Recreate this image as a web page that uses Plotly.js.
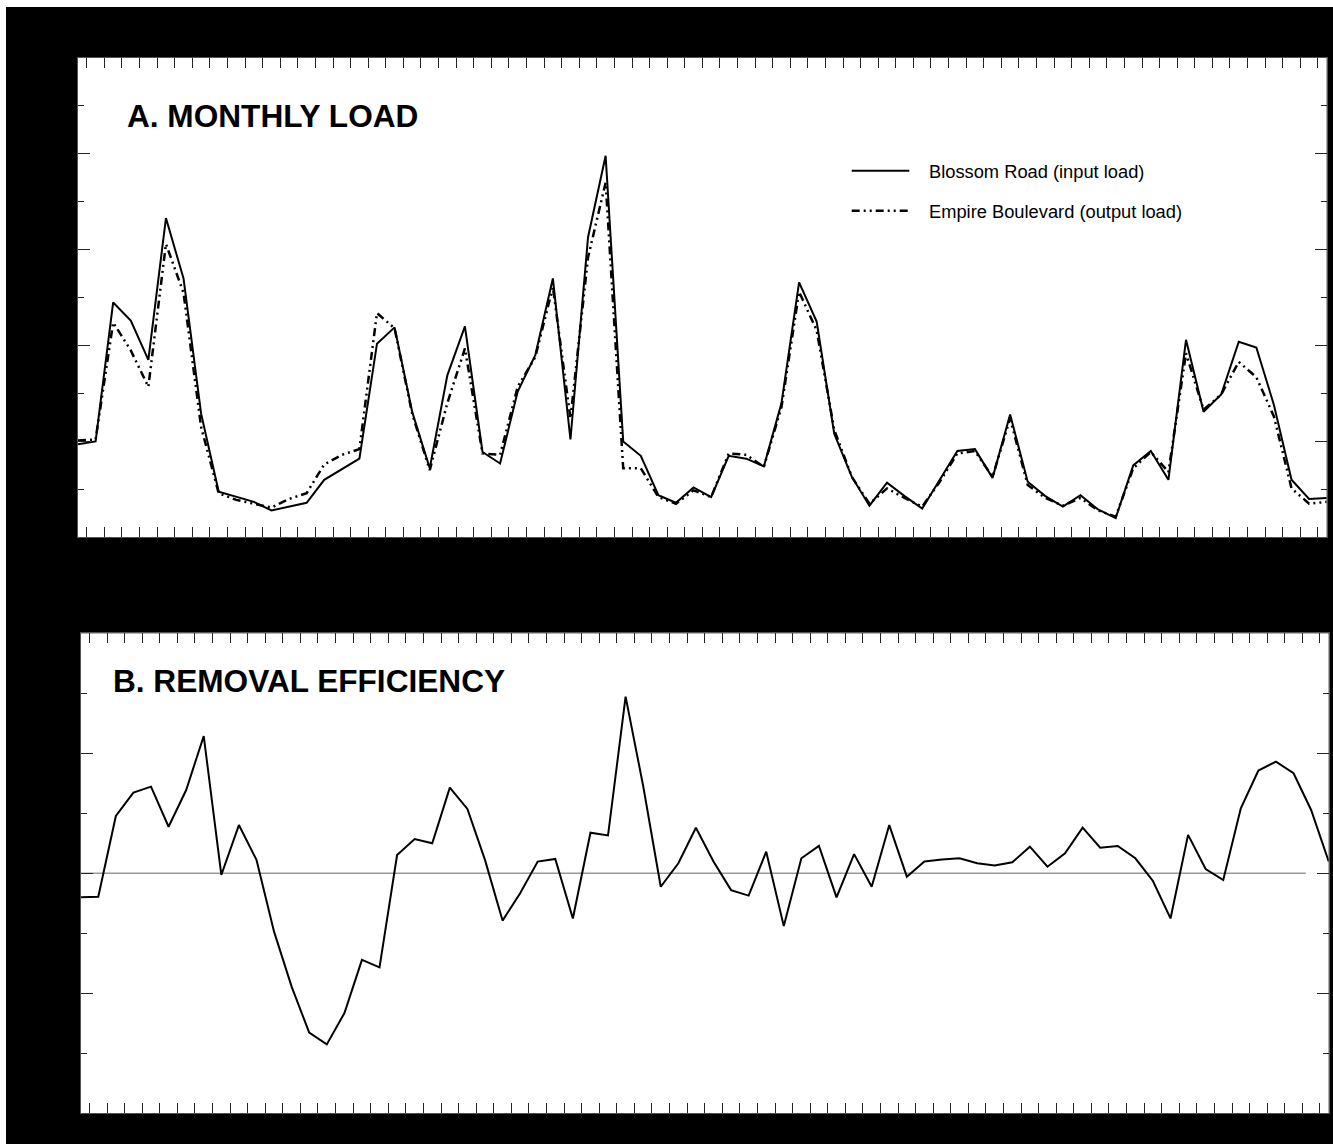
<!DOCTYPE html>
<html>
<head>
<meta charset="utf-8">
<script src="https://cdn.plot.ly/plotly-3.0.1.min.js"></script>
<style>
html,body{margin:0;padding:0;background:#ffffff;width:1333px;height:1144px;overflow:hidden}
#chart{position:absolute;left:6px;top:7px;width:1327px;height:1137px}
</style>
</head>
<body>
<div id="chart"></div>
<script>
// Month index (6 years of monthly values)
const months = [0,1,2,3,4,5,6,7,8,9,10,11,12,13,14,15,16,17,18,19,20,21,22,23,
  24,25,26,27,28,29,30,31,32,33,34,35,36,37,38,39,40,41,42,43,44,45,46,47,
  48,49,50,51,52,53,54,55,56,57,58,59,60,61,62,63,64,65,66,67,68,69,70,71];

// A. Monthly load (axis units; major tick every 10)
const blossomLoad = [9.7,10.0,24.5,22.6,18.5,33.3,27.0,12.9,4.75,4.2,
  3.7,2.8,3.2,3.6,6.0,7.1,8.2,20.2,21.9,13.1,
  7.2,16.9,22.0,8.9,7.7,15.2,19.0,27.0,10.2,31.3,
  39.8,10.0,8.5,4.4,3.6,5.2,
  4.2,8.5,8.2,7.4,14.0,26.6,22.5,10.8,6.3,3.3,
  5.7,4.3,3.0,6.0,9.0,9.2,6.2,12.8,5.8,4.3,
  3.2,4.4,2.9,2.0,7.5,9.0,6.0,20.6,13.1,14.9,
  20.4,19.8,13.8,6.0,4.0,4.1];

const empireLoad = [10.1,10.2,22.4,19.5,15.7,30.6,25.5,11.5,4.6,3.9,
  3.5,3.1,4.0,4.6,7.6,8.6,9.2,23.4,21.8,12.9,
  7.0,14.0,19.7,8.75,8.6,15.7,18.8,26.1,12.4,29.2,
  37.0,7.2,7.2,4.2,3.5,4.9,
  4.2,8.75,8.6,7.35,13.6,25.6,21.6,11.2,6.3,3.5,
  5.1,4.1,3.2,5.8,8.75,9.0,6.3,12.4,5.45,4.1,
  3.3,4.1,2.8,2.15,7.2,8.9,6.8,19.2,13.3,14.9,
  18.3,16.7,12.6,5.1,3.5,3.7];

// B. Removal efficiency (percent)
const removalEff = [-10.0,-9.75,23.9,33.6,36.1,19.4,34.7,57.2,-0.7,20.1,
  5.6,-24.3,-47.2,-66.4,-71.3,-58.3,-36.1,-39.2,7.6,14.3,
  12.5,35.7,26.8,5.6,-19.7,-8.3,4.9,6.0,-18.8,16.9,
  15.8,73.6,36.4,-5.6,4.2,19.0,
  4.9,-7.0,-9.3,9.0,-22.0,6.25,11.4,-10.0,8.0,-5.6,
  20.1,-1.4,4.9,5.8,6.25,4.2,3.3,4.6,11.1,2.75,
  8.3,19.0,10.7,11.4,6.25,-3.2,-18.8,16.0,1.8,-2.8,
  27.1,42.8,46.5,41.7,26.4,4.9];

const seriesNames = ['Blossom Road (input load)', 'Empire Boulevard (output load)'];
const panelTitles = ['A. MONTHLY LOAD', 'B. REMOVAL EFFICIENCY'];

// month-boundary tick positions
const monthTicks = months.slice(0, 71).map(m => m + 0.5);

const dashPattern = '8px,4px,2px,4px,2px,4px';
const fontFam = 'Liberation Sans, Arial, Helvetica, sans-serif';

const traces = [
  {x: months, y: blossomLoad, name: seriesNames[0], type: 'scatter', mode: 'lines',
   line: {color: '#000', width: 2}, xaxis: 'x', yaxis: 'y'},
  {x: months, y: empireLoad, name: seriesNames[1], type: 'scatter', mode: 'lines',
   line: {color: '#000', width: 2.5, dash: dashPattern}, xaxis: 'x', yaxis: 'y'},
  {x: months, y: removalEff, name: 'Removal efficiency', type: 'scatter', mode: 'lines',
   line: {color: '#000', width: 2}, xaxis: 'x2', yaxis: 'y2'}
];

const common = {showline: true, linecolor: '#555', linewidth: 1, mirror: 'ticks',
  ticks: 'inside', tickcolor: '#222', tickwidth: 1, showgrid: false, zeroline: false,
  showticklabels: false, fixedrange: true};

const layout = {
  width: 1327, height: 1137,
  margin: {l: 0, r: 0, t: 0, b: 0},
  paper_bgcolor: '#000000', plot_bgcolor: '#ffffff',
  showlegend: false,
  font: {family: fontFam, color: '#000'},
  xaxis: Object.assign({}, common, {domain: [0.05426, 0.99525], range: [0, 71],
    tickmode: 'array', tickvals: monthTicks, ticklen: 10, anchor: 'y'}),
  yaxis: Object.assign({}, common, {domain: [0.53360, 0.95515], range: [0, 50],
    tickmode: 'linear', tick0: 0, dtick: 10, ticklen: 12, anchor: 'x',
    minor: {tickmode: 'linear', tick0: 0, dtick: 5, ticklen: 6, ticks: 'inside', tickcolor: '#222', tickwidth: 1}}),
  xaxis2: Object.assign({}, common, {domain: [0.05629, 0.99676], range: [0, 71],
    tickmode: 'array', tickvals: monthTicks, ticklen: 10, anchor: 'y2'}),
  yaxis2: Object.assign({}, common, {domain: [0.02700, 0.44916], range: [-100, 100],
    tickmode: 'linear', tick0: 0, dtick: 50, ticklen: 12, anchor: 'x2',
    minor: {tickmode: 'linear', tick0: 0, dtick: 25, ticklen: 6, ticks: 'inside', tickcolor: '#222', tickwidth: 1}}),
  shapes: [
    {type: 'line', xref: 'x2', yref: 'y2', x0: 0, x1: 69.7, y0: 0, y1: 0,
     line: {color: '#999', width: 1.5}, layer: 'below'},
    {type: 'line', xref: 'paper', yref: 'paper', x0: 0.63730, x1: 0.68071, y0: 0.85602, y1: 0.85602,
     line: {color: '#000', width: 2}},
    {type: 'line', xref: 'paper', yref: 'paper', x0: 0.63730, x1: 0.68071, y0: 0.82084, y1: 0.82084,
     line: {color: '#000', width: 2.5, dash: dashPattern}}
  ],
  annotations: [
    {text: panelTitles[0], xref: 'paper', yref: 'paper', x: 0.08968, y: 0.90413,
     xanchor: 'left', yanchor: 'middle', showarrow: false,
     font: {family: fontFam, size: 31.6, weight: 'bold', color: '#000'}},
    {text: panelTitles[1], xref: 'paper', yref: 'paper', x: 0.07935, y: 0.40721,
     xanchor: 'left', yanchor: 'middle', showarrow: false,
     font: {family: fontFam, size: 31.6, weight: 'bold', color: '#000'}},
    {text: seriesNames[0], xref: 'paper', yref: 'paper', x: 0.69405, y: 0.85576,
     xanchor: 'left', yanchor: 'middle', showarrow: false,
     font: {family: fontFam, size: 18.3, color: '#000'}},
    {text: seriesNames[1], xref: 'paper', yref: 'paper', x: 0.69405, y: 0.82058,
     xanchor: 'left', yanchor: 'middle', showarrow: false,
     font: {family: fontFam, size: 18.3, color: '#000'}}
  ]
};

Plotly.newPlot('chart', traces, layout, {staticPlot: true, displayModeBar: false});
</script>
</body>
</html>
